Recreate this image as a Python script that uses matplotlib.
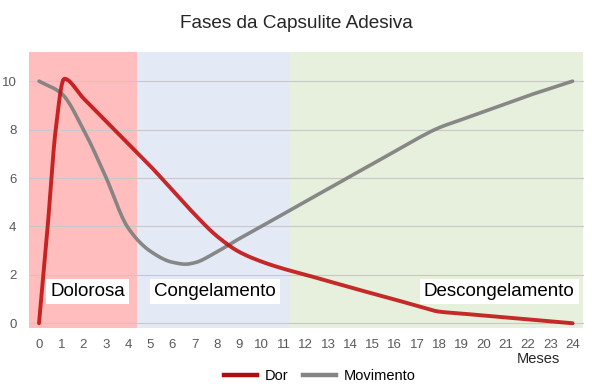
import numpy as np
import matplotlib.pyplot as plt
from matplotlib.lines import Line2D

plt.rcParams['font.family'] = ['Liberation Sans', 'DejaVu Sans']

# Dados
dor_meses = [0, 0.4, 0.75, 1.13, 2, 3, 4, 5, 6, 7, 8, 9, 10, 11, 12, 13, 14,
             15, 16, 17, 18, 19, 20, 21, 22, 23, 24]
dor = [0.0, 4.1, 8.0, 10.1, 9.29, 8.36, 7.43, 6.5, 5.5, 4.5, 3.6, 2.95, 2.55,
       2.25, 2.0, 1.74, 1.48, 1.23, 0.98, 0.72, 0.48, 0.4, 0.32, 0.24, 0.16,
       0.08, 0.0]
mov_meses = [0, 1, 2, 3, 4, 5, 6, 6.6, 7, 8, 9, 10, 11, 12, 13, 14, 15, 16, 17,
             18, 19, 20, 21, 22, 23, 24]
movimento = [10.0, 9.5, 8.0, 6.05, 3.95, 2.98, 2.52, 2.44, 2.5, 2.95, 3.49,
             4.0, 4.52, 5.04, 5.55, 6.07, 6.58, 7.1, 7.62, 8.08, 8.41, 8.74,
             9.07, 9.4, 9.7, 10.0]
fases = ["Dolorosa", "Congelamento", "Descongelamento"]
limites_fases = [-0.45, 4.42, 11.28, 24.45]
cores_fases = ['#FFBDBD', '#E3EAF6', '#E6F0DD']
pos_rotulos = [2.2, 7.9, 20.7]
xticks = list(range(0, 25))
yticks = [0, 2, 4, 6, 8, 10]


def pchip(x, y, n=400):
    # interpolação cúbica monótona (Fritsch-Carlson), sem overshoot
    x = np.asarray(x, float)
    y = np.asarray(y, float)
    h = np.diff(x)
    d = np.diff(y) / h
    m = np.zeros_like(y)
    for k in range(1, len(x) - 1):
        if d[k - 1] * d[k] > 0:
            w1 = 2 * h[k] + h[k - 1]
            w2 = h[k] + 2 * h[k - 1]
            m[k] = (w1 + w2) / (w1 / d[k - 1] + w2 / d[k])
    m[0] = d[0]
    m[-1] = d[-1]
    xs = np.linspace(x[0], x[-1], n)
    idx = np.clip(np.searchsorted(x, xs) - 1, 0, len(x) - 2)
    t = (xs - x[idx]) / h[idx]
    h00 = 2 * t ** 3 - 3 * t ** 2 + 1
    h10 = t ** 3 - 2 * t ** 2 + t
    h01 = -2 * t ** 3 + 3 * t ** 2
    h11 = t ** 3 - t ** 2
    ys = (h00 * y[idx] + h10 * h[idx] * m[idx] + h01 * y[idx + 1]
          + h11 * h[idx] * m[idx + 1])
    return xs, ys


fig = plt.figure(figsize=(5.92, 3.86), dpi=100)
ax = fig.add_axes([0.049, 0.150, 0.937, 0.715])

# Faixas das fases
for i in range(3):
    ax.axvspan(limites_fases[i], limites_fases[i + 1], ymin=0, ymax=1,
               color=cores_fases[i], zorder=0, lw=0)

# Grade horizontal
for v in yticks:
    ax.axhline(v, color='#C8C8C8', lw=0.8, zorder=1)

xd, yd = pchip(dor_meses, dor)
xm, ym = pchip(mov_meses, movimento)
ax.plot(xm, ym, color='#7F7F7F', lw=2.6, alpha=0.92, zorder=3, solid_capstyle='round')
ax.plot(xd, yd, color='#C00E0E', lw=2.8, alpha=0.88, zorder=4, solid_capstyle='round')

# Rótulos das fases
for nome, px in zip(fases, pos_rotulos):
    ax.text(px, 1.3, nome, ha='center', va='center', fontsize=13.5, color='black',
            zorder=5, bbox=dict(boxstyle='square,pad=0.22', fc='white', ec='none'))

ax.set_xlim(-0.45, 24.5)
ax.set_ylim(-0.2, 11.2)
ax.set_xticks(xticks)
ax.set_yticks(yticks)
ax.tick_params(length=0, labelsize=9.5, colors='#595959', pad=8)
ax.tick_params(axis='y', pad=9)
for s in ax.spines.values():
    s.set_visible(False)

fig.text(0.909, 0.070, "Meses", ha='center', va='center', fontsize=10.5, color='#262626')
fig.text(0.5, 0.940, "Fases da Capsulite Adesiva", ha='center', va='center',
         fontsize=13.7, color='#262626')

handles = [Line2D([], [], color='#B00D0D', lw=3.2),
           Line2D([], [], color='#858585', lw=3.2)]
fig.legend(handles, ["Dor", "Movimento"], loc='center', bbox_to_anchor=(0.54, 0.025),
           ncol=2, frameon=False, fontsize=10.5, handlelength=2.3, columnspacing=1.0,
           handletextpad=0.5)

fig.savefig('out.png', dpi=100)
